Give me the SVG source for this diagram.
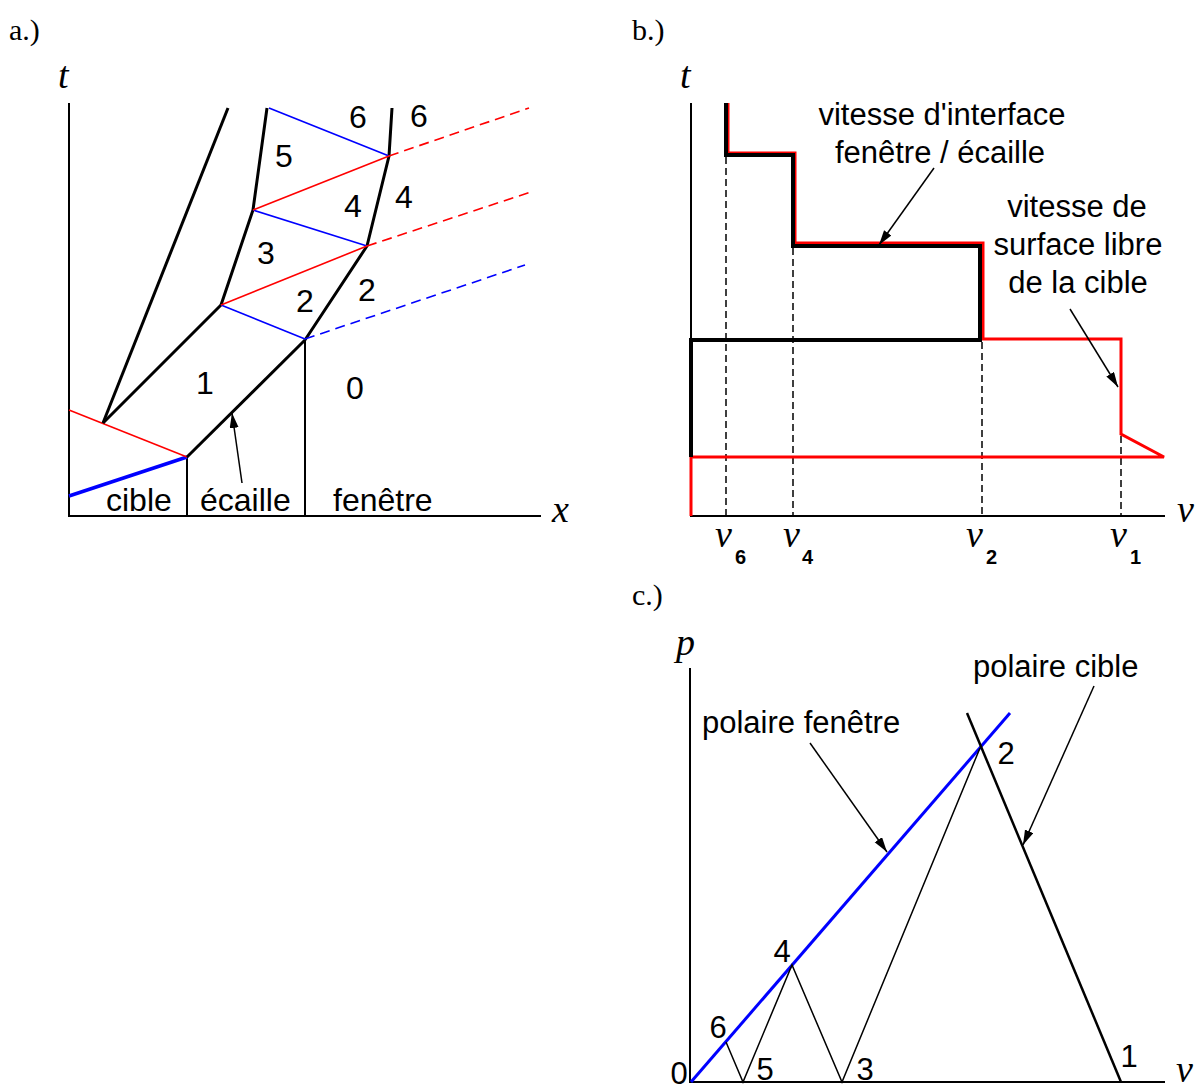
<svg xmlns="http://www.w3.org/2000/svg" width="1197" height="1091" viewBox="0 0 1197 1091">
<style>
.panel{font-family:"Liberation Serif","Times New Roman",serif;font-size:30px;fill:#000}
.ax{font-family:"Liberation Serif","Times New Roman",serif;font-style:italic;font-size:38px;fill:#000}
.lbA{font-family:"Liberation Sans",Arial,sans-serif;font-size:32px;fill:#000}
.lb{font-family:"Liberation Sans",Arial,sans-serif;font-size:31px;fill:#000}
.sub{font-family:"Liberation Sans",Arial,sans-serif;font-weight:bold;font-size:20px;fill:#000}
.axis{stroke:#000;stroke-width:2;fill:none}
.blk{stroke:#000;stroke-width:3;fill:none;stroke-linejoin:miter}
.thin{stroke:#000;stroke-width:1.5;fill:none}
.red{stroke:#f00;stroke-width:1.6;fill:none}
.blue{stroke:#00f;stroke-width:1.6;fill:none}
.rdash{stroke:#f00;stroke-width:1.6;fill:none;stroke-dasharray:10 6}
.bdash{stroke:#00f;stroke-width:1.6;fill:none;stroke-dasharray:10 6}
.kdash{stroke:#000;stroke-width:1.5;fill:none;stroke-dasharray:7 4}
.arr{stroke:#000;stroke-width:1.5;fill:none;marker-end:url(#ah)}
</style>
<defs>
<marker id="ah" markerUnits="userSpaceOnUse" markerWidth="16" markerHeight="10" refX="15" refY="4.5" orient="auto">
<path d="M0,0 L15,4.5 L0,9 z" fill="#000"/>
</marker>
</defs>

<!-- Panel a -->
<g id="panel-a">
<text class="panel" x="9" y="40">a.)</text>
<text class="ax" x="58" y="88">t</text>
<text class="ax" x="552" y="522">x</text>
<g id="a-axes">
<polyline class="axis" points="69,103 69,516 541,516"/>
</g>
<g id="a-connectors">
<line class="axis" x1="187" y1="457" x2="187" y2="516" stroke-width="2.5"/>
<line class="axis" x1="305" y1="340" x2="305" y2="516" stroke-width="2.5"/>
<line x1="69" y1="496" x2="187" y2="457" stroke="#00f" stroke-width="3.5"/>
<line class="red" x1="69" y1="410" x2="187" y2="457"/>
<line class="blk" x1="187" y1="457" x2="305" y2="340"/>
<line class="blk" x1="103" y1="423" x2="221" y2="305"/>
<line class="blk" x1="103" y1="423" x2="228" y2="108"/>
<polyline class="blk" points="221,305 253,210 267,108"/>
<polyline class="blk" points="305,340 367,246 389,156 392,108"/>
<line class="blue" x1="221" y1="305" x2="305" y2="339"/>
<line class="blue" x1="253" y1="210" x2="367" y2="246"/>
<line class="blue" x1="269" y1="108" x2="389" y2="156"/>
<line class="red" x1="221" y1="305" x2="367" y2="246"/>
<line class="red" x1="253" y1="210" x2="389" y2="156"/>
<line class="bdash" x1="305" y1="339" x2="525" y2="265"/>
<line class="rdash" x1="367" y1="246" x2="531" y2="192"/>
<line class="rdash" x1="389" y1="156" x2="529" y2="108"/>
<line class="arr" x1="242" y1="483" x2="232" y2="413"/>
</g>
<g id="a-labels">
<text class="lbA" x="106" y="511">cible</text>
<text class="lbA" x="200" y="511">écaille</text>
<text class="lbA" x="333" y="511">fenêtre</text>
<text class="lbA" x="205" y="394" text-anchor="middle">1</text>
<text class="lbA" x="355" y="399" text-anchor="middle">0</text>
<text class="lbA" x="305" y="312" text-anchor="middle">2</text>
<text class="lbA" x="367" y="301" text-anchor="middle">2</text>
<text class="lbA" x="266" y="264" text-anchor="middle">3</text>
<text class="lbA" x="353" y="217" text-anchor="middle">4</text>
<text class="lbA" x="404" y="208" text-anchor="middle">4</text>
<text class="lbA" x="284" y="167" text-anchor="middle">5</text>
<text class="lbA" x="358" y="128" text-anchor="middle">6</text>
<text class="lbA" x="419" y="127" text-anchor="middle">6</text>
</g>
</g>

<!-- Panel b -->
<g id="panel-b">
<text class="panel" x="632" y="40">b.)</text>
<text class="ax" x="680" y="88">t</text>
<text class="ax" x="1177" y="522">v</text>
<g id="b-axes">
<polyline class="axis" points="691,103 691,516 1165,516"/>
</g>
<g id="b-connectors">
<line class="kdash" x1="726" y1="157" x2="726" y2="516"/>
<line class="kdash" x1="793" y1="248" x2="793" y2="516"/>
<line class="kdash" x1="982" y1="342" x2="982" y2="516"/>
<line class="kdash" x1="1121" y1="436" x2="1121" y2="516"/>
<polyline points="691,516 691,457 1164,457 1121,434 1121,339 983,339 983,243 795,243 795,153 728,153 728,103" fill="none" stroke="#f00" stroke-width="3"/>
<polyline points="726,103 726,155 793,155 793,246 980,246 980,340 691,340 691,457" fill="none" stroke="#000" stroke-width="4"/>
<line class="arr" x1="934" y1="168" x2="879" y2="245"/>
<line class="arr" x1="1070" y1="309" x2="1118" y2="387"/>
</g>
<g id="b-labels">
<text class="lb" x="942" y="125" text-anchor="middle">vitesse d'interface</text>
<text class="lb" x="940" y="163" text-anchor="middle">fenêtre / écaille</text>
<text class="lb" x="1077" y="217" text-anchor="middle">vitesse de</text>
<text class="lb" x="1078" y="255" text-anchor="middle">surface libre</text>
<text class="lb" x="1078" y="293" text-anchor="middle">de la cible</text>
<text class="ax" x="715" y="547">v</text><text class="sub" x="735" y="564">6</text>
<text class="ax" x="783" y="547">v</text><text class="sub" x="802" y="564">4</text>
<text class="ax" x="966" y="547">v</text><text class="sub" x="986" y="564">2</text>
<text class="ax" x="1110" y="547">v</text><text class="sub" x="1130" y="564">1</text>
</g>
</g>

<!-- Panel c -->
<g id="panel-c">
<text class="panel" x="632" y="605">c.)</text>
<text class="ax" x="676" y="655">p</text>
<text class="ax" x="1176" y="1082">v</text>
<g id="c-axes">
<polyline class="axis" points="690,668 690,1082 1165,1082"/>
</g>
<g id="c-connectors">
<line x1="691" y1="1082" x2="1010" y2="713" stroke="#00f" stroke-width="3"/>
<line x1="967" y1="713" x2="1121" y2="1082" stroke="#000" stroke-width="2.5"/>
<polyline class="thin" points="980,748 842,1082 792,965 743,1082 726,1042"/>
<line class="arr" x1="810" y1="743" x2="887" y2="852"/>
<line class="arr" x1="1094" y1="686" x2="1023" y2="845"/>
</g>
<g id="c-labels">
<text class="lb" x="702" y="733">polaire fenêtre</text>
<text class="lb" x="973" y="677">polaire cible</text>
<text class="lb" x="1006" y="764" text-anchor="middle">2</text>
<text class="lb" x="782" y="962" text-anchor="middle">4</text>
<text class="lb" x="718" y="1038" text-anchor="middle">6</text>
<text class="lb" x="765" y="1080" text-anchor="middle">5</text>
<text class="lb" x="865" y="1080" text-anchor="middle">3</text>
<text class="lb" x="1129" y="1067" text-anchor="middle">1</text>
<text class="lb" x="679" y="1084" text-anchor="middle">0</text>
</g>
</g>
</svg>
